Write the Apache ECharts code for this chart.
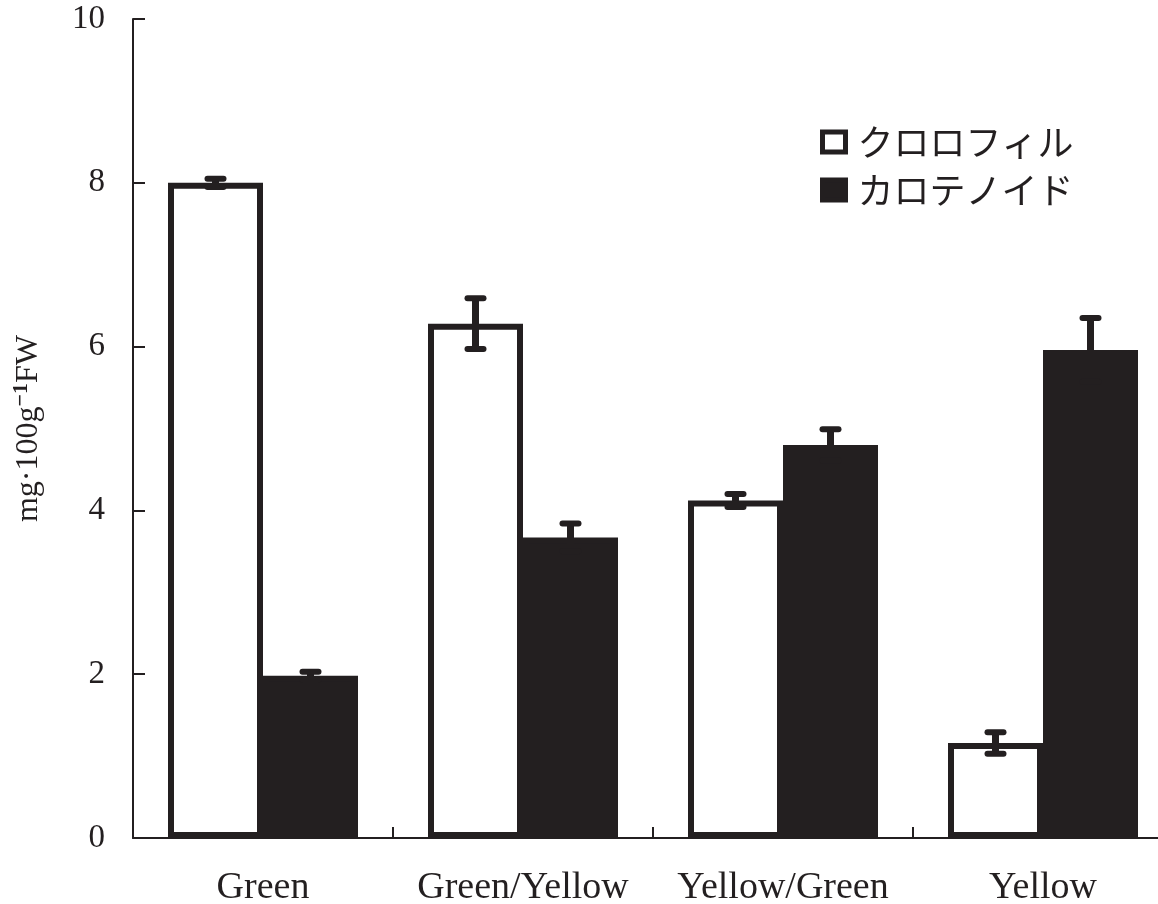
<!DOCTYPE html>
<html>
<head>
<meta charset="utf-8">
<script src="https://cdn.jsdelivr.net/npm/echarts@6/dist/echarts.min.js"></script>
<style>
  html, body { margin: 0; padding: 0; background: #fff; }
  #chart { width: 1158px; height: 904px; }
</style>
</head>
<body>
<div id="chart"></div>
<script>
// Pigment content by peel colour stage (mg per 100 g fresh weight)
const categories = ['Green', 'Green/Yellow', 'Yellow/Green', 'Yellow'];
const seriesNames = ['クロロフィル', 'カロテノイド'];
const chlorophyll = [8.0, 6.28, 4.12, 1.16];
const chlorophyllErr = [0.05, 0.31, 0.08, 0.13];
const carotenoid = [1.98, 3.67, 4.80, 5.96];
const carotenoidErr = [0.05, 0.17, 0.19, 0.39];
const yTickMin = 0, yTickMax = 10, yTickStep = 2;

const INK = '#231f20';
const BAR_W = 95;
const SERIF = '"Liberation Serif", "DejaVu Serif", serif';
const JP = '"Noto Sans CJK JP", sans-serif';

// rows for the error-bar overlay: [category index, mean, error, side]
const errRows = [];
chlorophyll.forEach((v, i) => errRows.push([i, v, chlorophyllErr[i], 0]));
carotenoid.forEach((v, i) => errRows.push([i, v, carotenoidErr[i], 1]));

function renderErrorBar(params, api) {
  const ci = api.value(0), v = api.value(1), e = api.value(2), side = api.value(3);
  const cx = api.coord([ci, 0])[0] + (side === 0 ? -1 : 1) * BAR_W / 2;
  const yHi = api.coord([ci, v + e])[1];
  const yLo = api.coord([ci, v - e])[1];
  const capHalf = 8;
  const style = { stroke: INK, lineWidth: 6, lineCap: 'round' };
  return {
    type: 'group',
    children: [
      { type: 'line', shape: { x1: cx, y1: yHi, x2: cx, y2: yLo }, style: { stroke: INK, lineWidth: 7 } },
      { type: 'line', shape: { x1: cx - capHalf, y1: yHi, x2: cx + capHalf, y2: yHi }, style: style },
      { type: 'line', shape: { x1: cx - capHalf, y1: yLo, x2: cx + capHalf, y2: yLo }, style: style }
    ]
  };
}

const chart = echarts.init(document.getElementById('chart'), null, { renderer: 'canvas' });
chart.setOption({
  backgroundColor: '#ffffff',
  animation: false,
  grid: { left: 133, right: -15, top: 19, bottom: 66, containLabel: false, outerBoundsMode: 'none' },
  legend: {
    orient: 'vertical',
    left: 820,
    top: 124,
    padding: 0,
    itemGap: 12,
    itemWidth: 23,
    itemHeight: 20,
    icon: 'rect',
    textStyle: { fontFamily: JP, fontSize: 36, lineHeight: 36, color: INK, padding: [0, 0, 0, 7] },
    data: [
      { name: seriesNames[0], itemStyle: { color: '#fff', borderColor: INK, borderWidth: 5 } },
      { name: seriesNames[1], itemStyle: { color: INK, borderColor: INK, borderWidth: 5 } }
    ]
  },
  xAxis: {
    type: 'category',
    data: categories,
    boundaryGap: true,
    axisLine: { lineStyle: { color: INK, width: 2 } },
    axisTick: { show: true, inside: true, length: 11, lineStyle: { color: INK, width: 2 } },
    axisLabel: { interval: 0, hideOverlap: false, fontFamily: SERIF, fontSize: 38, lineHeight: 38, color: INK, margin: 31 },
    splitLine: { show: false }
  },
  yAxis: {
    type: 'value',
    min: yTickMin,
    max: yTickMax,
    interval: yTickStep,
    name: '{a|mg·100g}{s|−1}{a|FW}',
    nameLocation: 'middle',
    nameGap: 84,
    nameRotate: 90,
    nameTextStyle: {
      rich: {
        a: { fontFamily: SERIF, fontSize: 32, color: INK, lineHeight: 40 },
        s: { fontFamily: SERIF, fontSize: 22, color: INK, fontWeight: 'bold', lineHeight: 40, padding: [0, 0, 16, 0] }
      }
    },
    axisLine: { show: true, lineStyle: { color: INK, width: 2 } },
    axisTick: { show: true, inside: true, length: 12, lineStyle: { color: INK, width: 2 } },
    axisLabel: { fontFamily: SERIF, fontSize: 33, color: INK, margin: 28 },
    splitLine: { show: false }
  },
  series: [
    {
      name: seriesNames[0],
      type: 'bar',
      data: chlorophyll,
      barWidth: BAR_W,
      barGap: '0%',
      itemStyle: { color: '#ffffff', borderColor: INK, borderWidth: 6 }
    },
    {
      name: seriesNames[1],
      type: 'bar',
      data: carotenoid,
      barWidth: BAR_W,
      barGap: '0%',
      itemStyle: { color: INK, borderColor: INK, borderWidth: 6 }
    },
    {
      type: 'custom',
      name: 'error',
      data: errRows,
      encode: { x: 0, y: 1 },
      renderItem: renderErrorBar,
      z: 5,
      silent: true
    }
  ]
});
</script>
</body>
</html>
